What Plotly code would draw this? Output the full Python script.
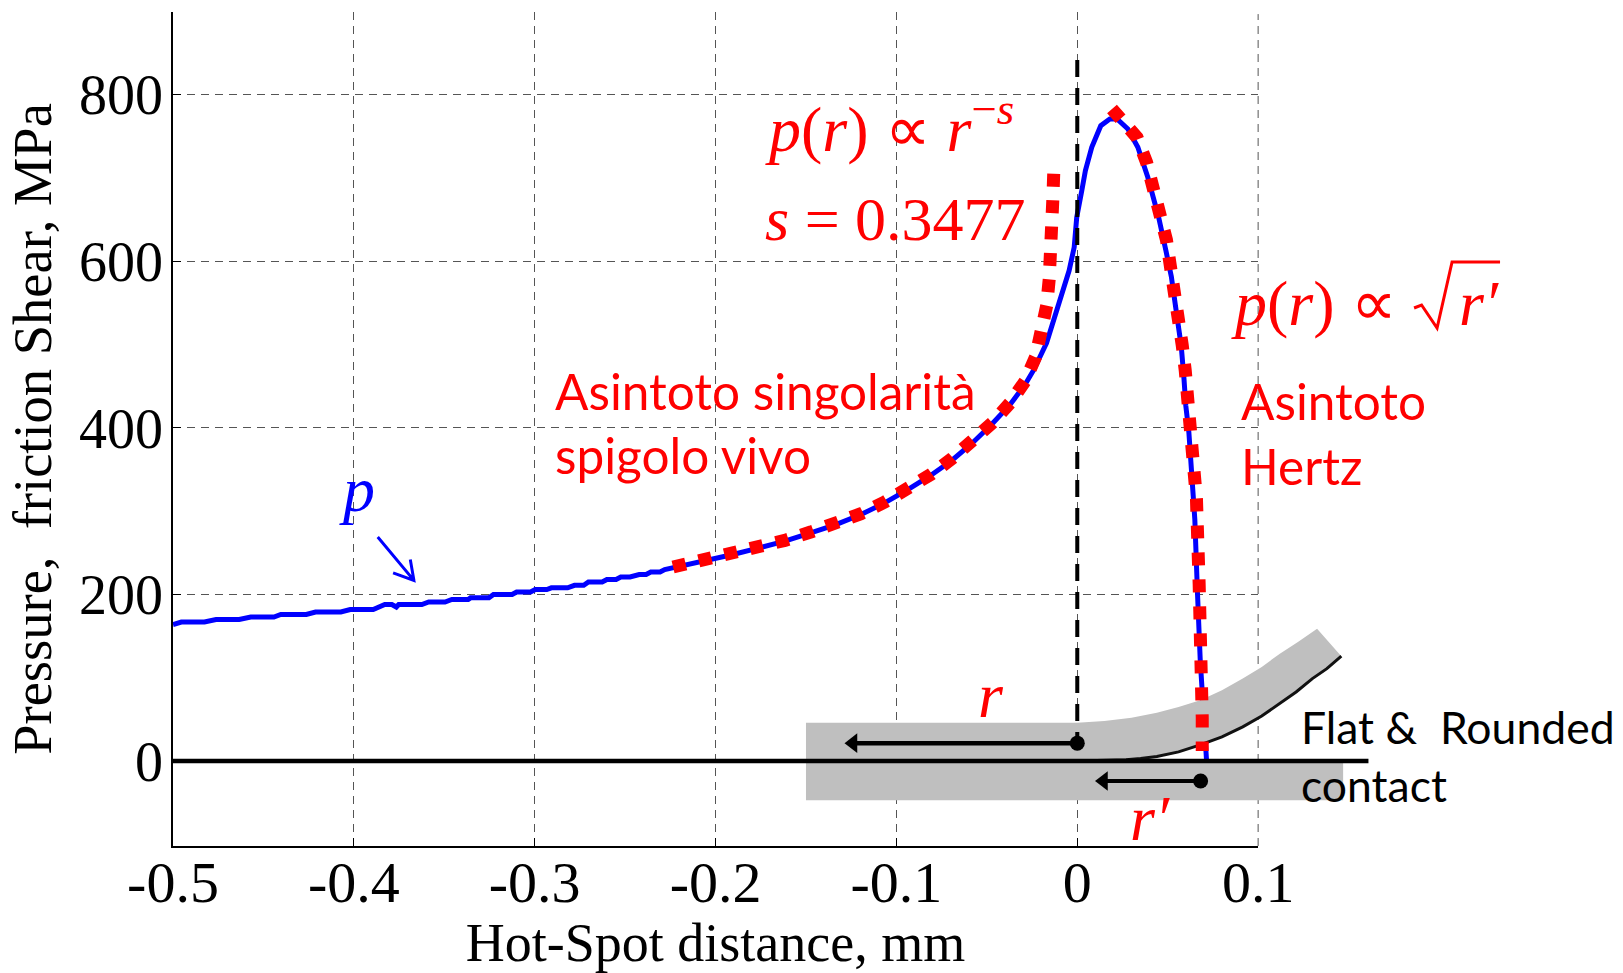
import plotly.graph_objects as go

W, H = 1623, 973
L, R, T, B = 172.5, 1258, 12, 846

p_x = [-0.5,-0.4954,-0.4826,-0.4762,-0.4634,-0.457,-0.4442,-0.4404,-0.4263,-0.4212,-0.4072,-0.402,-0.3893,-0.3829,-0.379,-0.3765,-0.3752,-0.3624,-0.3586,-0.3496,-0.3458,-0.3368,-0.3355,-0.3253,-0.3228,-0.3125,-0.31,-0.3023,-0.2997,-0.2933,-0.2908,-0.2818,-0.278,-0.2729,-0.2703,-0.2627,-0.2601,-0.255,-0.2524,-0.2473,-0.2422,-0.2384,-0.2358,-0.2307,-0.2281,-0.2193,-0.2048,-0.1904,-0.1759,-0.1617,-0.1474,-0.1335,-0.1196,-0.1065,-0.0937,-0.0811,-0.0694,-0.058,-0.047,-0.0372,-0.0289,-0.024,-0.017,-0.013,-0.0087,-0.0045,-0.0017,-0.0003,0.0025,0.0045,0.008,0.013,0.018,0.022,0.028,0.0335,0.039,0.045,0.049,0.052,0.0546,0.0575,0.059,0.06,0.0617,0.063,0.0645,0.065,0.0665,0.068,0.0715]
p_y = [164,167,167,170,170,173,173,176,176,179,179,182,182,188,188,185,188,188,191,191,194,194,196,196,200,200,203,203,206,206,208,208,211,211,215,215,218,218,221,221,224,224,227,227,230,234,241,248,256,264,274,284,296,310,326,343,361,382,405,428,452,470,502,530,558,589,617,653,685,709,737,763,771,771,759,737,701,653,613,582,542,498,459,427,395,347,315,290,200,121,0]

sing_x = [-0.2235,-0.2048,-0.1904,-0.1759,-0.1617,-0.1474,-0.1335,-0.1196,-0.1065,-0.0937,-0.0811,-0.0694,-0.058,-0.047,-0.0372,-0.0289,-0.0231,-0.0195,-0.0169,-0.0155,-0.0144,-0.0138,-0.0135,-0.0130,-0.0130]
sing_y = [233,241.5,249,257,265,275,285,297,311,327,344,363,384,406,430,456,485,516,547,579,611,643,675,707,717]

hertz_x = [0.0192,0.033,0.0383,0.0425,0.0462,0.0493,0.0515,0.054,0.056,0.058,0.0597,0.0611,0.0625,0.0637,0.0648,0.0659,0.0674,0.068,0.0682,0.0685,0.0688,0.0691,0.0691]
hertz_y = [783,749,719,688,657,626,594,563,531,500,469,437,406,374,342,315,212,181,148,116,84,52,12]

flat_top_x = [-0.15,0.0,0.015,0.03,0.044,0.056,0.068,0.08,0.0915,0.102,0.112,0.122,0.1326,0.146,0.138,0.13,0.121,0.112,0.102,0.0915,0.08,0.068,0.056,0.044,0.035,0.027,0.015,0.0,-0.15,-0.15]
flat_top_y = [46,46,48,52,58,65,73,85,99,113,129,143,159,126,111,99,83,69,54,41,29,19.5,11,5.6,3,1.6,0.4,0,0,46]
flat_low_x = [-0.15,0.147,0.147,-0.15,-0.15]
flat_low_y = [0,0,-47,-47,0]
round_x = [0.0,0.015,0.027,0.035,0.044,0.056,0.068,0.08,0.0915,0.102,0.112,0.121,0.13,0.138,0.146]
round_y = [0,0.4,1.6,3,5.6,11,19.5,29,41,54,69,83,99,111,126]
base_x = [-0.5,-0.157,0.161]
base_y = [0,0,0]
hot_x = [0,0]
hot_y = [842,0]
edge_x = [0.1,0.1]
edge_y = [-102,897]
r_x = [0,-0.124]
r_y = [21.5,21.5]
rp_x = [0.0682,0.0145]
rp_y = [-24,-24]
arrow_x = [-0.3868,-0.3668,-0.3688,-0.3668,-0.3783]
arrow_y = [269,217,242,217,226]

x_ticks = [-0.5,-0.4,-0.3,-0.2,-0.1,0,0.1]
x_labels = ["-0.5","-0.4","-0.3","-0.2","-0.1","0","0.1"]
y_ticks = [0,200,400,600,800]
y_labels = ["0","200","400","600","800"]
y_range = [-102, 899.5]
x_range = [-0.5, 0.1]

SERIF = "Liberation Serif"
SANS = "Lato"
RED = "#ff0000"
BLUE = "#0000ff"
GRAY = "#bfbfbf"
GRID = "#555555"

def fx(px):
    return (px - L) / (W - L)
def fy(py):
    return (B - py) / (B - T)

wide_end = x_range[0] + (x_range[1] - x_range[0]) * (W - L) / (R - L)

fig = go.Figure()
fig.add_trace(go.Scatter(x=p_x, y=p_y, mode="lines", line=dict(color=BLUE, width=5)))
over = dict(xaxis="x2", yaxis="y2")
fig.add_trace(go.Scatter(x=edge_x, y=edge_y, mode="lines", line=dict(color=GRID, width=1, dash="8px,6px"), **over))
fig.add_trace(go.Scatter(x=flat_top_x, y=flat_top_y, mode="none", fill="toself", fillcolor=GRAY, **over))
fig.add_trace(go.Scatter(x=flat_low_x, y=flat_low_y, mode="none", fill="toself", fillcolor=GRAY, **over))
fig.add_trace(go.Scatter(x=round_x, y=round_y, mode="lines", line=dict(color="#111111", width=3), **over))
fig.add_trace(go.Scatter(x=base_x, y=base_y, mode="lines", line=dict(color="#000000", width=4.5), **over))
fig.add_trace(go.Scatter(x=hot_x, y=hot_y, mode="lines", line=dict(color="#000000", width=4, dash="17px,11px"), **over))
fig.add_trace(go.Scatter(x=sing_x, y=sing_y, mode="lines", line=dict(color=RED, width=13, dash="13px,13.4px"), **over))
fig.add_trace(go.Scatter(x=hertz_x, y=hertz_y, mode="lines", line=dict(color=RED, width=13, dash="13px,14px"), **over))
for ax, ay, w in [(r_x, r_y, 4.5), (rp_x, rp_y, 4)]:
    fig.add_trace(go.Scatter(x=ax, y=ay, mode="lines+markers", line=dict(color="#000000", width=w),
                             marker=dict(color="#000000", opacity=1, size=[15, 17], symbol=["circle", "triangle-left"],
                                         line=dict(width=0)), **over))
fig.add_trace(go.Scatter(x=arrow_x, y=arrow_y, mode="lines", line=dict(color=BLUE, width=3), **over))

def note(text, x, y, size, color, family=SERIF):
    fig.add_annotation(text=text, x=fx(x), y=fy(y), xref="paper", yref="paper", showarrow=False,
                       xanchor="left", yanchor="middle", align="left",
                       font=dict(family=family, size=size, color=color))

note("<i>p</i>(<i>r</i>) ∝ <i>r</i><sup>−<i>s</i></sup>", 763, 124, 64, RED)
note("<i>s</i> = 0.3477", 763, 219, 62, RED)
note("<i>p</i>(<i>r</i>) ∝", 1229, 303, 64, RED)
note("<i>r′</i>", 1457, 303, 64, RED)
note("Asintoto singolarità", 553, 391, 49.5, RED, SANS)
note("spigolo vivo", 553, 455, 49.5, RED, SANS)
note("Asintoto", 1239, 401, 49.5, RED, SANS)
note("Hertz", 1239, 466, 49.5, RED, SANS)
note("Flat &amp;  Rounded", 1299, 726, 44.5, "#000000", SANS)
note("contact", 1299, 784, 44.5, "#000000", SANS)
note("<i>p</i>", 337, 489, 64, BLUE)
note("<i>r</i>", 976, 695, 64, RED)
note("<i>r′</i>", 1128, 818, 64, RED)

fig.add_shape(type="path", xref="paper", yref="paper",
              path=f"M {fx(1414)} {fy(308)} L {fx(1421.5)} {fy(305)} L {fx(1437)} {fy(328)} L {fx(1452)} {fy(262)} L {fx(1500)} {fy(262)}",
              line=dict(color=RED, width=3))

axis_common = dict(showline=True, linecolor="#000000", linewidth=1.5, ticks="inside", ticklen=8,
                   tickcolor="#000000", tickwidth=1, showgrid=True, gridcolor=GRID, gridwidth=1,
                   griddash="8px,6px", zeroline=False, automargin=False)
hidden = dict(visible=False, showgrid=False, zeroline=False, fixedrange=True)
fig.update_layout(
    width=W, height=H, autosize=False, showlegend=False,
    margin=dict(l=L, r=0, t=T, b=H - B, pad=0),
    paper_bgcolor="#ffffff", plot_bgcolor="rgba(0,0,0,0)",
    xaxis=dict(domain=[0, (R - L) / (W - L)], range=x_range, tickvals=x_ticks, ticktext=x_labels,
               ticklabelstandoff=-15, tickfont=dict(family=SERIF, size=58, color="#000000"),
               title=dict(text="Hot-Spot distance, mm", standoff=24, font=dict(family=SERIF, size=54, color="#000000")),
               **axis_common),
    yaxis=dict(range=y_range, tickvals=y_ticks, ticktext=y_labels, ticklabelstandoff=-3,
               tickfont=dict(family=SERIF, size=56, color="#000000"),
               title=dict(text="\u00a0Pressure,  friction Shear, MPa", standoff=10, font=dict(family=SERIF, size=54.5, color="#000000")),
               **axis_common),
    xaxis2=dict(domain=[0, 1], range=[x_range[0], wide_end], anchor="y2", **hidden),
    yaxis2=dict(domain=[0, 1], range=y_range, anchor="x2", **hidden),
)
fig.write_html("out.html", post_script="document.body.style.margin='0';", config={"displayModeBar": False})
